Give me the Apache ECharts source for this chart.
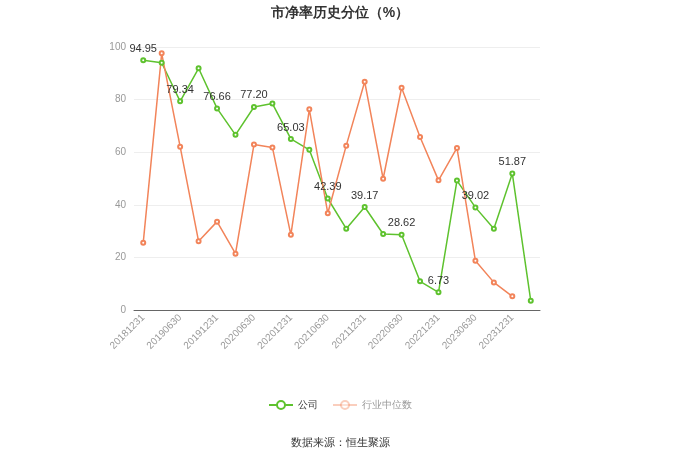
<!DOCTYPE html>
<html><head><meta charset="utf-8">
<script src="https://cdn.jsdelivr.net/npm/echarts@6/dist/echarts.min.js"></script>
<style>html,body{margin:0;padding:0;background:#fff}#c{width:680px;height:460px}</style>
</head><body><div id="c"></div>
<script>
const categories = ['20181231','20190331','20190630','20190930','20191231','20200331','20200630','20200930','20201231','20210331','20210630','20210930','20211231','20220331','20220630','20220930','20221231','20230331','20230630','20230930','20231231','20240331'];
const companyValues = [94.95,94.0,79.34,91.9,76.66,66.6,77.20,78.5,65.03,60.9,42.39,30.9,39.17,28.9,28.62,10.9,6.73,49.2,39.02,30.9,51.87,3.5];
const industryValues = [25.6,97.6,62.1,26.1,33.6,21.4,62.9,61.8,28.6,76.3,36.8,62.5,86.8,49.9,84.5,65.8,49.3,61.6,18.7,10.5,5.2];
const yTicks = [0,20,40,60,80,100];

const chart = echarts.init(document.getElementById('c'));
const green = '#5ec22e', orange = '#f2845a';
chart.setOption({
  animation:false,
  title:{text:'市净率历史分位（%）',left:'center',top:1,textStyle:{fontSize:14,fontWeight:'bold',color:'#333'}},
  grid:{left:134,right:140,top:47,bottom:150},
  legend:{bottom:45,left:'center',itemWidth:24,itemHeight:10,itemGap:14,textStyle:{fontSize:10,color:'#333'},
    data:[{name:'公司'},{name:'行业中位数',itemStyle:{opacity:0.4},lineStyle:{opacity:0.4},textStyle:{color:'#999'}}]},
  graphic:[{type:'text',left:'center',top:437,style:{text:'数据来源：恒生聚源',fontSize:11,fill:'#333'}}],
  xAxis:{type:'category',data:categories,boundaryGap:true,
    axisLine:{lineStyle:{color:'#666'}},
    axisTick:{alignWithLabel:true,interval:1,lineStyle:{color:'#999'}},
    axisLabel:{interval:1,rotate:45,color:'#999',fontSize:10,margin:6}},
  yAxis:{type:'value',min:yTicks[0],max:yTicks[yTicks.length-1],interval:20,
    axisLabel:{color:'#999',fontSize:10},splitLine:{lineStyle:{color:'#eee'}},axisLine:{show:false},axisTick:{show:false}},
  series:[
    {name:'公司',type:'line',data:companyValues,symbol:'emptyCircle',symbolSize:4,
     itemStyle:{color:green},lineStyle:{width:1.5,color:green},
     label:{show:true,position:'top',distance:3,color:'#333',fontSize:11,
       formatter:p=>p.dataIndex%2===0&&p.dataIndex<21?p.value.toFixed(2):''}},
    {name:'行业中位数',type:'line',data:industryValues,symbol:'emptyCircle',symbolSize:4,
     itemStyle:{color:orange},lineStyle:{width:1.5,color:orange}}
  ]
});
</script></body></html>
